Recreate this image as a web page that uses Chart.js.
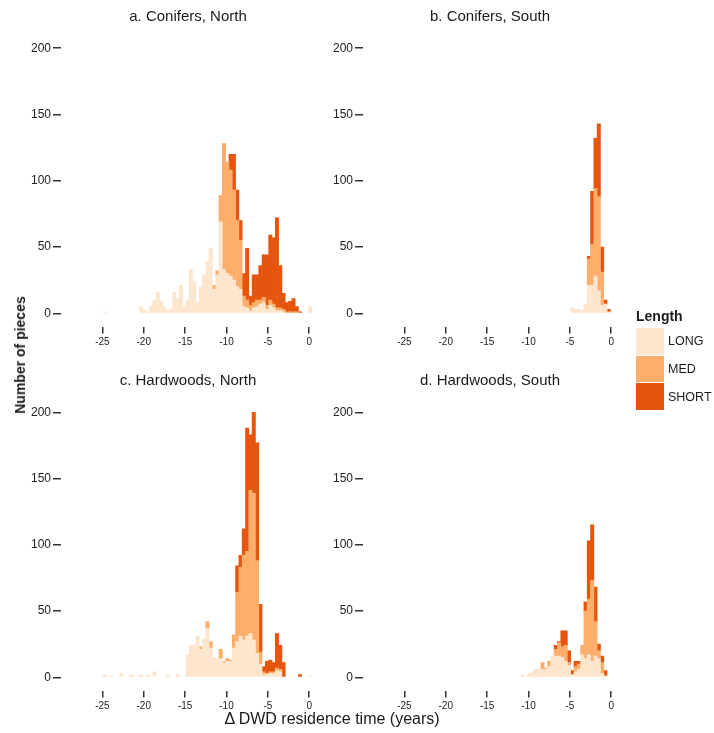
<!DOCTYPE html>
<html>
<head>
<meta charset="utf-8">
<title>DWD residence time histograms</title>
<script src="https://cdn.jsdelivr.net/npm/chart.js@4"></script>
<style>
  html, body { margin: 0; padding: 0; background: #ffffff; }
  #page {
    position: relative; width: 714px; height: 733px; overflow: hidden;
    font-family: "Liberation Sans", Arial, sans-serif; color: #1a1a1a;
  }
  #page canvas { position: absolute; left: 0; top: 0; }
  .txt { position: absolute; white-space: nowrap; }
  .panel-title { font-size: 15px; line-height: 18px; text-align: center; }
  .swatch { position: absolute; left: 636px; width: 28px; }
  .key { position: absolute; left: 668px; font-size: 12.5px; line-height: 14px; }
</style>
</head>
<body>
<div id="page">
  <canvas id="cA" width="714" height="733"></canvas>
  <canvas id="cB" width="714" height="733"></canvas>
  <canvas id="cC" width="714" height="733"></canvas>
  <canvas id="cD" width="714" height="733"></canvas>

  <div class="txt" style="left:20px; top:355px; transform:translate(-50%,-50%) rotate(-90deg); font-weight:bold; font-size:14px;">Number of pieces</div>
  <div class="txt" style="left:332px; top:719px; transform:translate(-50%,-50%); font-size:16px;">Δ DWD residence time (years)</div>

  <div class="txt" style="left:636px; top:308px; font-weight:bold; font-size:14px; line-height:16px;">Length</div>
  <div class="swatch" style="top:328px; height:27px; background:#FEE6CE;"></div>
  <div class="swatch" style="top:356px; height:26px; background:#FDAE6B;"></div>
  <div class="swatch" style="top:383px; height:27px; background:#E6550D;"></div>
  <div class="key" style="top:334px;">LONG</div>
  <div class="key" style="top:362px;">MED</div>
  <div class="key" style="top:390px;">SHORT</div>
</div>

<script>
// Histogram bin centres (years), bin width 0.4
const BIN_CENTERS = [
  -24.7, -24.3, -23.9, -23.5, -23.1, -22.7, -22.3, -21.9, -21.5, -21.1,
  -20.7, -20.3, -19.9, -19.5, -19.1, -18.7, -18.3, -17.9, -17.5, -17.1,
  -16.7, -16.3, -15.9, -15.5, -15.1, -14.7, -14.3, -13.9, -13.5, -13.1,
  -12.7, -12.3, -11.9, -11.5, -11.1, -10.7, -10.3,  -9.9,  -9.5,  -9.1,
   -8.7,  -8.3,  -7.9,  -7.5,  -7.1,  -6.7,  -6.3,  -5.9,  -5.5,  -5.1,
   -4.7,  -4.3,  -3.9,  -3.5,  -3.1,  -2.7,  -2.3,  -1.9,  -1.5,  -1.1,
   -0.7,  -0.3,   0.1
];

const X_TICKS = [-25, -20, -15, -10, -5, 0];
const Y_TICKS = [0, 50, 100, 150, 200];
const LENGTH_CLASSES = ['LONG', 'MED', 'SHORT'];

// a. Conifers, North
const LONG_A = [
  1, 0, 0, 0, 0, 0, 0, 0, 0, 0,
  0, 5, 2, 1, 5, 10, 16, 9, 5, 2,
  3, 16, 11, 21, 5, 10, 33, 24, 8, 20,
  29, 39, 49, 18, 29, 69, 33, 30, 28, 25,
  20, 18, 5, 4, 2, 4, 5, 7, 8, 3,
  6, 4, 2, 2, 1, 0, 0, 0, 0, 0,
  0, 0, 5
];
const MED_A = [
  0, 0, 0, 0, 0, 0, 0, 0, 0, 0,
  0, 0, 0, 0, 0, 0, 0, 0, 0, 0,
  0, 0, 0, 0, 0, 0, 0, 0, 0, 0,
  0, 0, 0, 3, 3, 20, 95, 84, 80, 68,
  50, 37, 8, 6, 4, 4, 5, 3, 4, 3,
  4, 3, 2, 2, 2, 1, 1, 1, 1, 0,
  0, 0, 0
];
const SHORT_A = [
  0, 0, 0, 0, 0, 0, 0, 0, 0, 0,
  0, 0, 0, 0, 0, 0, 0, 0, 0, 0,
  0, 0, 0, 0, 0, 0, 0, 0, 0, 0,
  0, 0, 0, 0, 0, 0, 0, 0, 12, 27,
  23, 15, 17, 39, 7, 21, 19, 26, 32, 38,
  49, 50, 68, 32, 12, 7, 8, 10, 4, 1,
  0, 0, 0
];

// b. Conifers, South
const LONG_B = [
  0, 0, 0, 0, 0, 0, 0, 0, 0, 0,
  0, 0, 0, 0, 0, 0, 0, 0, 0, 0,
  0, 0, 0, 0, 0, 0, 0, 0, 0, 0,
  0, 0, 0, 0, 0, 0, 0, 0, 0, 0,
  0, 0, 0, 0, 0, 0, 0, 0, 0, 0,
  4, 3, 3, 2, 7, 21, 21, 28, 17, 6,
  7, 1, 0
];
const MED_B = [
  0, 0, 0, 0, 0, 0, 0, 0, 0, 0,
  0, 0, 0, 0, 0, 0, 0, 0, 0, 0,
  0, 0, 0, 0, 0, 0, 0, 0, 0, 0,
  0, 0, 0, 0, 0, 0, 0, 0, 0, 0,
  0, 0, 0, 0, 0, 0, 0, 0, 0, 0,
  0, 0, 0, 0, 0, 20, 31, 66, 71, 25,
  0, 0, 0
];
const SHORT_B = [
  0, 0, 0, 0, 0, 0, 0, 0, 0, 0,
  0, 0, 0, 0, 0, 0, 0, 0, 0, 0,
  0, 0, 0, 0, 0, 0, 0, 0, 0, 0,
  0, 0, 0, 0, 0, 0, 0, 0, 0, 0,
  0, 0, 0, 0, 0, 0, 0, 0, 0, 0,
  0, 0, 0, 0, 0, 2, 40, 38, 55, 19,
  3, 2, 0
];

// c. Hardwoods, North
const LONG_C = [
  2, 0, 1, 0, 0, 3, 0, 0, 2, 0,
  0, 2, 0, 2, 0, 4, 0, 0, 0, 2,
  0, 0, 2, 0, 0, 17, 24, 24, 31, 21,
  29, 37, 22, 15, 14, 14, 11, 12, 12, 22,
  27, 31, 28, 31, 33, 28, 18, 10, 2, 2,
  3, 3, 5, 4, 0, 0, 0, 0, 0, 0,
  0, 0, 1
];
const MED_C = [
  0, 0, 0, 0, 0, 0, 0, 0, 0, 0,
  0, 0, 0, 0, 0, 0, 0, 0, 0, 0,
  0, 0, 0, 0, 0, 0, 0, 0, 0, 2,
  0, 5, 5, 0, 0, 7, 1, 2, 1, 10,
  37, 52, 64, 64, 108, 111, 70, 9, 2, 1,
  1, 1, 2, 2, 0, 0, 0, 0, 0, 0,
  0, 0, 0
];
const SHORT_C = [
  0, 0, 0, 0, 0, 0, 0, 0, 0, 0,
  0, 0, 0, 0, 0, 0, 0, 0, 0, 0,
  0, 0, 0, 0, 0, 0, 0, 0, 0, 0,
  0, 0, 0, 0, 0, 0, 0, 0, 0, 0,
  20, 9, 20, 93, 42, 61, 89, 36, 4, 9,
  9, 7, 26, 18, 11, 0, 0, 0, 0, 2,
  0, 0, 0
];

// d. Hardwoods, South
const LONG_D = [
  0, 0, 0, 0, 0, 0, 0, 0, 0, 0,
  0, 0, 0, 0, 0, 0, 0, 0, 0, 0,
  0, 0, 0, 0, 0, 0, 0, 0, 0, 0,
  0, 0, 0, 0, 0, 2, 0, 3, 4, 6,
  6, 6, 6, 8, 16, 16, 16, 15, 12, 9,
  2, 4, 6, 17, 14, 17, 12, 16, 14, 3,
  1, 0, 0
];
const MED_D = [
  0, 0, 0, 0, 0, 0, 0, 0, 0, 0,
  0, 0, 0, 0, 0, 0, 0, 0, 0, 0,
  0, 0, 0, 0, 0, 0, 0, 0, 0, 0,
  0, 0, 0, 0, 0, 0, 0, 0, 0, 0,
  0, 5, 1, 4, 0, 5, 10, 8, 12, 2,
  0, 4, 4, 7, 36, 42, 61, 26, 6, 8,
  0, 0, 0
];
const SHORT_D = [
  0, 0, 0, 0, 0, 0, 0, 0, 0, 0,
  0, 0, 0, 0, 0, 0, 0, 0, 0, 0,
  0, 0, 0, 0, 0, 0, 0, 0, 0, 0,
  0, 0, 0, 0, 0, 0, 0, 0, 0, 0,
  0, 0, 0, 0, 0, 3, 1, 12, 11, 9,
  3, 4, 2, 0, 7, 44, 42, 26, 5, 5,
  4, 0, 0
];

const COLORS = { LONG: '#FEE6CE', MED: '#FDAE6B', SHORT: '#E6550D' };

const PANELS = [
  { canvas: 'cA', title: 'a. Conifers, North',  series: [LONG_A, MED_A, SHORT_A], area: { left: 61,  right: 315, top: 35,  bottom: 326.5 } },
  { canvas: 'cB', title: 'b. Conifers, South',  series: [LONG_B, MED_B, SHORT_B], area: { left: 363, right: 617, top: 35,  bottom: 326.5 } },
  { canvas: 'cC', title: 'c. Hardwoods, North', series: [LONG_C, MED_C, SHORT_C], area: { left: 61,  right: 315, top: 399, bottom: 690.5 } },
  { canvas: 'cD', title: 'd. Hardwoods, South', series: [LONG_D, MED_D, SHORT_D], area: { left: 363, right: 617, top: 399, bottom: 690.5 } }
];

const PAGE_W = 714, PAGE_H = 733;
const Y_AXIS_W = 45, X_AXIS_H = 30;
const FONT = '"Liberation Sans", Arial, sans-serif';

Chart.defaults.font.family = FONT;

// Empty bins are left out so no hairline is drawn along the baseline
function toPoints(values) {
  return BIN_CENTERS
    .map((c, i) => ({ x: c, y: values[i] }))
    .filter(pt => pt.y > 0);
}

function addPanelTitle(p) {
  const el = document.createElement('div');
  el.className = 'txt panel-title';
  el.textContent = p.title;
  el.style.left = p.area.left + 'px';
  el.style.width = (p.area.right - p.area.left) + 'px';
  el.style.top = (p.area.top - 28.5) + 'px';
  document.getElementById('page').appendChild(el);
}

function drawPanel(p) {
  const tickGrid = (len) => ({
    display: true, drawOnChartArea: false, drawTicks: true, offset: false,
    tickLength: len, color: '#333333', lineWidth: 1.5
  });
  new Chart(document.getElementById(p.canvas), {
    type: 'bar',
    data: {
      datasets: LENGTH_CLASSES.map((name, k) => ({
        label: name,
        data: toPoints(p.series[k]),
        backgroundColor: COLORS[name],
        borderWidth: 0,
        barPercentage: 1,
        categoryPercentage: 1
      }))
    },
    options: {
      responsive: false,
      animation: false,
      devicePixelRatio: 1,
      events: [],
      layout: {
        padding: {
          left: p.area.left - Y_AXIS_W,
          right: PAGE_W - p.area.right,
          top: p.area.top,
          bottom: PAGE_H - p.area.bottom - X_AXIS_H
        }
      },
      plugins: { legend: { display: false }, tooltip: { enabled: false }, title: { display: false } },
      scales: {
        x: {
          type: 'linear', stacked: true, offset: false,
          min: -30, max: 0.7,
          afterFit(s) { s.height = X_AXIS_H; },
          afterBuildTicks(s) { s.ticks = X_TICKS.map(v => ({ value: v })); },
          grid: tickGrid(7),
          border: { display: false },
          ticks: {
            autoSkip: false, maxRotation: 0, padding: 3, color: '#222222',
            font: { size: 10, family: FONT },
            callback: (v) => String(v)
          }
        },
        y: {
          stacked: true,
          min: -10, max: 210,
          afterFit(s) { s.width = Y_AXIS_W; },
          afterBuildTicks(s) { s.ticks = Y_TICKS.map(v => ({ value: v })); },
          grid: tickGrid(8),
          border: { display: false },
          ticks: {
            padding: 2, color: '#222222',
            font: { size: 12, family: FONT },
            callback: (v) => String(v)
          }
        }
      }
    }
  });
  addPanelTitle(p);
}

PANELS.forEach(drawPanel);
</script>
</body>
</html>
